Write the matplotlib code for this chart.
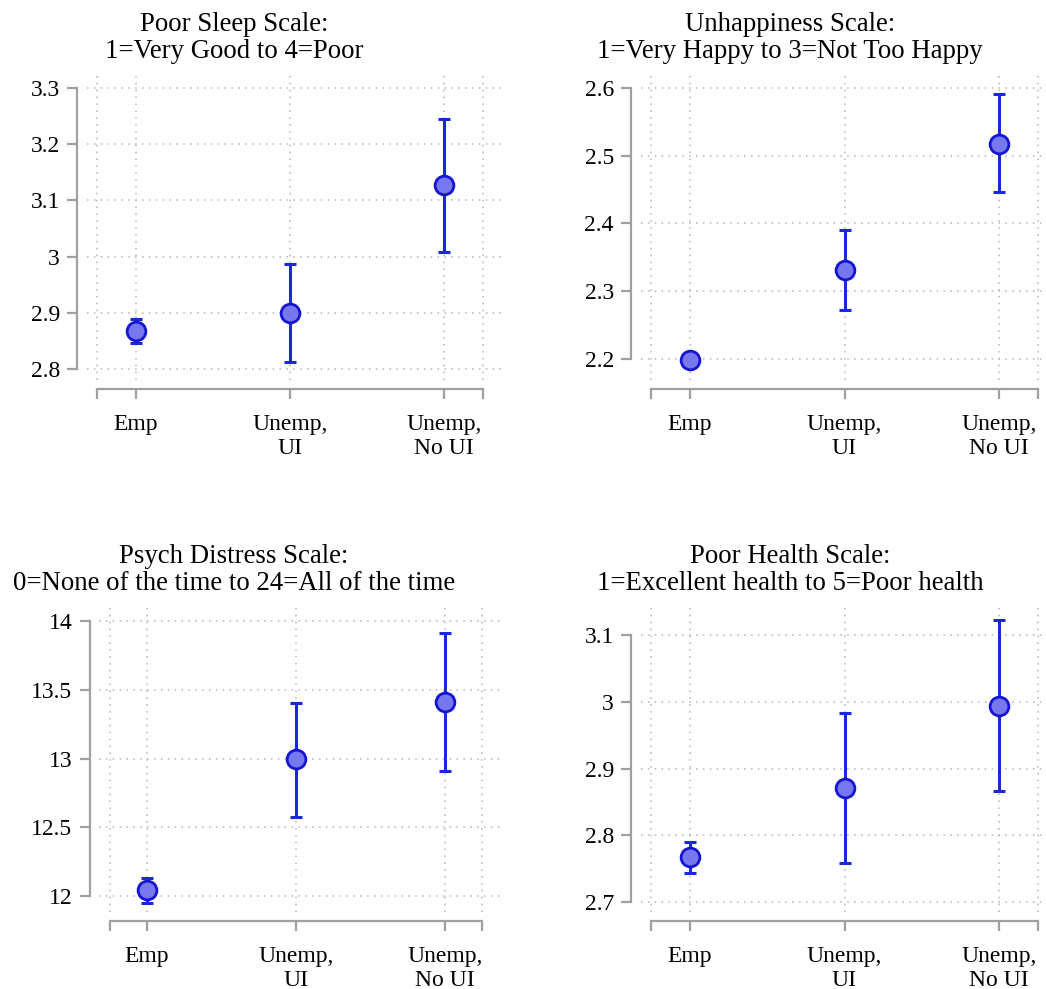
import matplotlib
matplotlib.use('Agg')
import matplotlib.pyplot as plt
from matplotlib.ticker import FuncFormatter
import numpy as np

plt.rcParams['font.family'] = ['Liberation Serif', 'DejaVu Serif']

# categories
groups = ['Emp', 'Unemp,\nUI', 'Unemp,\nNo UI']
xpos = [1, 2, 3]

# panel titles
titles = [
    ('Poor Sleep Scale:', '1=Very Good to 4=Poor'),
    ('Unhappiness Scale:', '1=Very Happy to 3=Not Too Happy'),
    ('Psych Distress Scale:', '0=None of the time to 24=All of the time'),
    ('Poor Health Scale:', '1=Excellent health to 5=Poor health'),
]

# point estimates and 95% CI bounds
sleep_mean = [2.867, 2.900, 3.127]
sleep_lo = [2.847, 2.812, 3.009]
sleep_hi = [2.889, 2.987, 3.245]

happy_mean = [2.198, 2.331, 2.518]
happy_lo = [2.193, 2.272, 2.446]
happy_hi = [2.203, 2.390, 2.591]

distress_mean = [12.041, 12.993, 13.410]
distress_lo = [11.951, 12.575, 12.908]
distress_hi = [12.134, 13.405, 13.910]

health_mean = [2.767, 2.871, 2.994]
health_lo = [2.744, 2.759, 2.867]
health_hi = [2.790, 2.983, 3.122]

# y ticks
sleep_ticks = [2.8, 2.9, 3.0, 3.1, 3.2, 3.3]
happy_ticks = [2.2, 2.3, 2.4, 2.5, 2.6]
distress_ticks = [12, 12.5, 13, 13.5, 14]
health_ticks = [2.7, 2.8, 2.9, 3.0, 3.1]

panels = [
    (sleep_mean, sleep_lo, sleep_hi, sleep_ticks, (2.7804, 3.3285)),
    (happy_mean, happy_lo, happy_hi, happy_ticks, (2.169, 2.6236)),
    (distress_mean, distress_lo, distress_hi, distress_ticks, (11.884, 14.131)),
    (health_mean, health_lo, health_hi, health_ticks, (2.685, 3.148)),
]

W, H = 1046, 989
fig = plt.figure(figsize=(W / 100, H / 100), dpi=100)

# axes rectangles in pixels: left, right, top, bottom and xlim
rects = [
    (86.7, 501.0, 72, 380, (0.68, 3.37)),
    (640.6, 1046.0, 72, 380, (0.68, 3.304)),
    (99.3, 500.0, 603, 912, (0.68, 3.37)),
    (640.6, 1046.0, 603, 912, (0.68, 3.304)),
]
title_x = [234, 790, 234, 790]
title_y = [(31, 58), (31, 58), (563, 590), (563, 590)]

spine_col = '#a0a0a0'
face = '#7878ee'
edge = '#1414d2'
errc = '#1a28dc'
grid_col = '#b4b4b4'

for i, (mean, lo, hi, yt, ylim) in enumerate(panels):
    l, r, t, b, xlim = rects[i]
    ax = fig.add_axes([l / W, 1 - b / H, (r - l) / W, (b - t) / H])
    mean = np.array(mean)
    err = [mean - np.array(lo), np.array(hi) - mean]
    ax.errorbar(xpos, mean, yerr=err, fmt='none', ecolor=errc, elinewidth=2.2,
                capsize=4.2, capthick=2.2, zorder=3)
    ax.plot(xpos, mean, 'o', ms=13.5, mfc=face, mec=edge, mew=2, zorder=4)

    ax.set_xlim(*xlim)
    ax.set_ylim(*ylim)
    ax.set_xticks(xpos)
    ax.set_xticklabels(groups, linespacing=0.95)
    ax.set_xticks([0.75, 3.25], minor=True)
    ax.set_yticks(yt)
    ax.yaxis.set_major_formatter(FuncFormatter(lambda v, p: '%g' % v))

    for s in ['top', 'right']:
        ax.spines[s].set_visible(False)
    for s in ['left', 'bottom']:
        ax.spines[s].set_color(spine_col)
        ax.spines[s].set_linewidth(1.6)
        ax.spines[s].set_position(('outward', 6.8))
    ax.spines['left'].set_bounds(yt[0], yt[-1])
    ax.spines['bottom'].set_bounds(0.75, 3.25)

    ax.tick_params(axis='both', which='both', length=7.5, width=1.6,
                   color=spine_col, labelsize=17)
    ax.tick_params(axis='x', which='both', pad=10)
    ax.tick_params(axis='y', pad=5)

    ax.grid(True, axis='y', which='major', color=grid_col,
            linestyle=(0, (1, 3.5)), linewidth=1.1)
    ax.grid(True, axis='x', which='both', color=grid_col,
            linestyle=(0, (1, 3.5)), linewidth=1.1)
    ax.set_axisbelow(True)
    ax.patch.set_alpha(0)

    fig.text(title_x[i] / W, 1 - title_y[i][0] / H, titles[i][0],
             ha='center', va='baseline', fontsize=19.3)
    fig.text(title_x[i] / W, 1 - title_y[i][1] / H, titles[i][1],
             ha='center', va='baseline', fontsize=19.3)

fig.savefig('out.png', dpi=100)
